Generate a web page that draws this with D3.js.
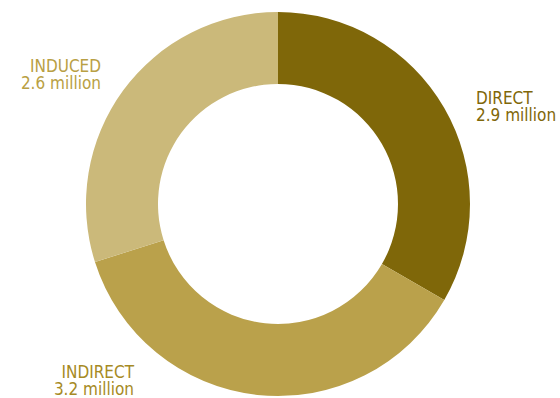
<!DOCTYPE html>
<html>
<head>
<meta charset="utf-8">
<script src="https://cdn.jsdelivr.net/npm/d3@7"></script>
<style>
  body { margin: 0; background: #fff; }
  text { font-family: "DejaVu Sans Condensed", "Roboto", sans-serif; font-size: 17px; }
</style>
</head>
<body>
<div id="root"></div>
<script>
const width = 560,
      height = 398

// data
const categories = ['DIRECT', 'INDIRECT', 'INDUCED']
const values = [2.9, 3.2, 2.6]
const valueLabels = ['2.9 million', '3.2 million', '2.6 million']
const sliceColors = ['#7f6709', '#baa14b', '#cbb97a']
const textColors = ['#7f6709', '#a68a24', '#b9a044']

const data = categories.map((c, i) => ({ name: c, value: values[i], label: valueLabels[i] }))

const cx = 278, cy = 204,
      outerR = 192, innerR = 120

const svg = d3.select('#root')
  .append('svg')
  .attr('width', width)
  .attr('height', height)

const pie = d3.pie().value(d => d.value).sort(null)
const arc = d3.arc().innerRadius(innerR).outerRadius(outerR)

const g = svg.append('g').attr('transform', `translate(${cx},${cy})`)

g.selectAll('path')
  .data(pie(data))
  .enter().append('path')
  .attr('d', arc)
  .attr('fill', (d, i) => sliceColors[i])

// label anchors: [x, y of first baseline, anchor]
const labelPos = [[476, 104, 'start'], [134, 378, 'end'], [101, 72, 'end']]

const labels = svg.selectAll('text.lbl')
  .data(data)
  .enter().append('text')
  .attr('class', 'lbl')
  .attr('x', (d, i) => labelPos[i][0])
  .attr('y', (d, i) => labelPos[i][1])
  .attr('text-anchor', (d, i) => labelPos[i][2])
  .attr('fill', (d, i) => textColors[i])

labels.append('tspan').text(d => d.name)
labels.append('tspan')
  .attr('x', (d, i) => labelPos[i][0])
  .attr('dy', 17)
  .text(d => d.label)
</script>
</body>
</html>
